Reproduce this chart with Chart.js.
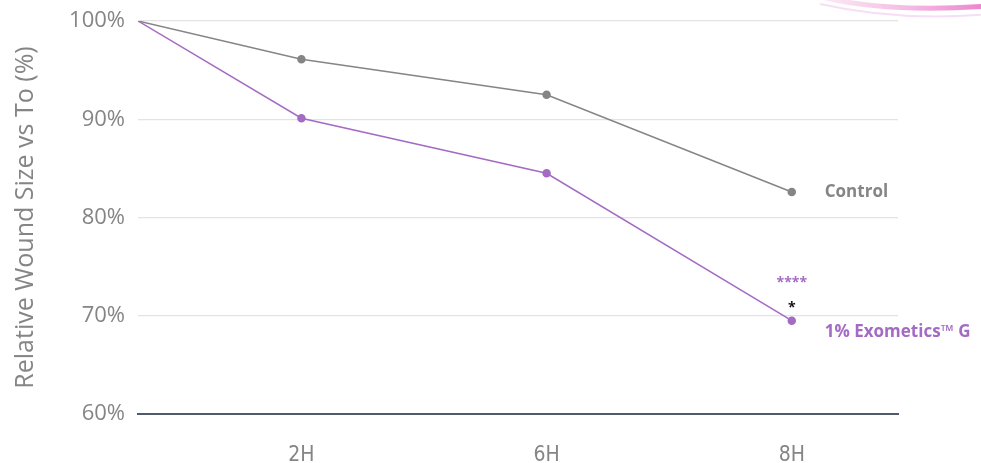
<!DOCTYPE html>
<html>
<head>
<meta charset="utf-8">
<script src="https://cdn.jsdelivr.net/npm/chart.js@4/dist/chart.umd.min.js"></script>
<style>
  html, body { margin: 0; padding: 0; background: #fff; }
  #wrap { width: 981px; height: 463px; }
</style>
</head>
<body>
<div id="wrap"><canvas id="chart"></canvas></div>
<script>
// time points as they sit on the drawn axis (6H is drawn at 5 on the picture's scale)
const timeLabels = ['0H', '2H', '6H', '8H'];
const timeAxis = [0, 2, 5, 8];
const controlValues = [100, 96.1, 92.5, 82.6];
const exoValues = [100, 90.1, 84.5, 69.5];
const yTicks = [60, 70, 80, 90, 100];

const GREY = '#858585';
const PURPLE = '#a46bc4';
const FONT = '"Open Sans", Lato, sans-serif';

const toPoints = vals => vals.map((v, i) => ({ x: timeAxis[i], y: v }));

// end labels, significance stars and the pink swoosh
const decorations = {
  id: 'decorations',
  beforeDraw(chart) {
    const ctx = chart.ctx;
    ctx.save();
    const g = ctx.createLinearGradient(800, 0, 981, 0);
    g.addColorStop(0, 'rgba(240,170,220,0.15)');
    g.addColorStop(1, 'rgba(236,120,200,0.9)');
    ctx.strokeStyle = g;
    ctx.lineWidth = 5;
    ctx.beginPath();
    ctx.moveTo(810, -6);
    ctx.quadraticCurveTo(880, 14, 990, 6);
    ctx.stroke();
    ctx.strokeStyle = 'rgba(240,190,235,0.5)';
    ctx.lineWidth = 2;
    ctx.beginPath();
    ctx.moveTo(820, 4);
    ctx.quadraticCurveTo(900, 22, 990, 14);
    ctx.stroke();
    ctx.restore();
  },
  afterDatasetsDraw(chart) {
    const { ctx, scales: { x, y } } = chart;
    const last = timeAxis.length - 1;
    const xp = x.getPixelForValue(timeAxis[last]);
    ctx.save();
    ctx.textBaseline = 'middle';
    ctx.textAlign = 'left';
    ctx.font = 'bold 17px ' + FONT;
    ctx.fillStyle = GREY;
    ctx.fillText('Control', xp + 33, y.getPixelForValue(controlValues[last]));
    ctx.fillStyle = PURPLE;
    ctx.fillText('1% Exometics™ G', xp + 33, y.getPixelForValue(exoValues[last]) + 11);
    ctx.textAlign = 'center';
    ctx.font = 'bold 14px ' + FONT;
    ctx.fillText('****', xp, y.getPixelForValue(exoValues[last]) - 38);
    ctx.fillStyle = '#111';
    ctx.fillText('*', xp, y.getPixelForValue(exoValues[last]) - 13);
    ctx.restore();
  }
};

new Chart(document.getElementById('chart'), {
  type: 'line',
  data: {
    datasets: [
      {
        label: 'Control',
        data: toPoints(controlValues),
        borderColor: GREY,
        backgroundColor: GREY,
        borderWidth: 1.5,
        pointRadius: [0, 3.5, 3.5, 3.5],
        tension: 0
      },
      {
        label: '1% Exometics™ G',
        data: toPoints(exoValues),
        borderColor: PURPLE,
        backgroundColor: PURPLE,
        borderWidth: 1.5,
        pointRadius: [0, 3.5, 3.5, 3.5],
        tension: 0
      }
    ]
  },
  options: {
    responsive: true,
    maintainAspectRatio: false,
    animation: false,
    layout: { padding: { top: 21, right: 83, left: 0, bottom: 0 } },
    plugins: { legend: { display: false }, tooltip: { enabled: false } },
    scales: {
      x: {
        type: 'linear',
        min: 0,
        max: 9.3,
        afterBuildTicks: axis => { axis.ticks = timeAxis.slice(1).map(v => ({ value: v })); },
        afterFit: axis => { axis.height = 49; axis.paddingLeft = 0; axis.paddingRight = 0; },
        grid: { display: false },
        border: { display: true, color: '#4f5a6b', width: 2 },
        ticks: {
          color: GREY,
          font: { family: '"Liberation Sans Narrow", "DejaVu Sans Condensed", sans-serif', size: 21 },
          padding: 21,
          maxRotation: 0,
          callback: v => timeLabels[timeAxis.indexOf(v)]
        }
      },
      y: {
        min: 60,
        max: 100,
        afterBuildTicks: axis => { axis.ticks = yTicks.map(v => ({ value: v })); },
        afterFit: axis => { axis.width = 138; axis.paddingTop = 0; axis.paddingBottom = 0; },
        grid: { color: '#e3e3e3', lineWidth: 1.2, drawTicks: false },
        border: { display: false },
        ticks: {
          color: GREY,
          font: { family: FONT, size: 22 },
          padding: 13,
          callback: v => v + '%'
        },
        title: {
          display: true,
          text: 'Relative Wound Size vs To (%)',
          color: GREY,
          font: { family: FONT, size: 25 },
          padding: { top: 11, bottom: 0 }
        }
      }
    }
  },
  plugins: [decorations]
});
</script>
</body>
</html>
